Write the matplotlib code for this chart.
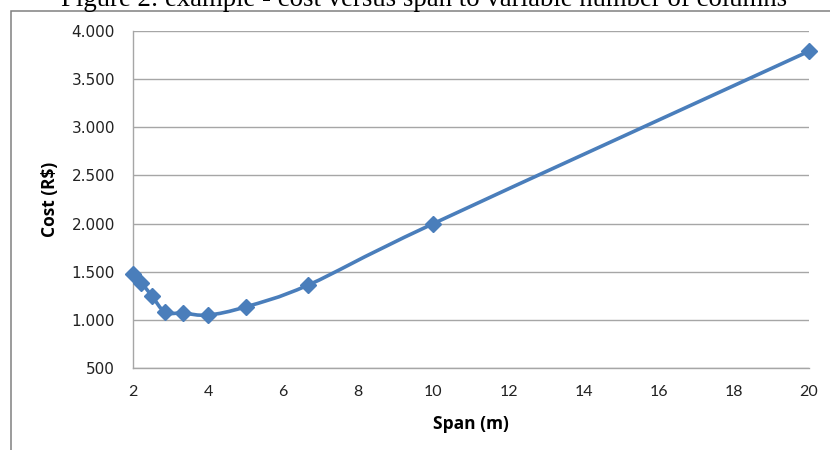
import matplotlib.pyplot as plt
import numpy as np
from matplotlib.path import Path
from matplotlib.patches import PathPatch, Rectangle
from matplotlib.ticker import FuncFormatter

# spans for 10..1 columns (20 m total)
span = [2.0, 2.222, 2.5, 2.857, 3.333, 4.0, 5.0, 6.667, 10.0, 20.0]
cost = [1476, 1385, 1250, 1080, 1070, 1050, 1135, 1362, 2000, 3790]

x_ticks = list(range(2, 21, 2))
y_ticks = list(range(500, 4001, 500))

CAPTION = "Figure 2: example - cost versus span to variable number of columns"
BLUE = "#4a7ebb"
GRID = "#a6a6a6"


def smooth_path(xs, ys):
    # Catmull-Rom as cubic Bezier segments, like Excel's smoothed line
    pts = np.column_stack([xs, ys]).astype(float)
    verts = [pts[0]]
    codes = [Path.MOVETO]
    n = len(pts)
    for i in range(n - 1):
        p0 = pts[max(i - 1, 0)]
        p1 = pts[i]
        p2 = pts[i + 1]
        p3 = pts[min(i + 2, n - 1)]
        c1 = p1 + (p2 - p0) / 6
        c2 = p2 - (p3 - p1) / 6
        verts += [c1, c2, p2]
        codes += [Path.CURVE4] * 3
    return Path(verts, codes)


fig = plt.figure(figsize=(8.3, 4.5), dpi=100)
ax = fig.add_axes([133 / 830, 1 - 368 / 450, 676 / 830, 337 / 450])

# chart area frame (runs off the right and bottom edges)
fig.patches.append(Rectangle((11 / 830, -0.1), 1.0, 1 - 10.5 / 450 + 0.1,
                             transform=fig.transFigure, fill=False,
                             edgecolor="#808080", linewidth=1.1))
fig.text(424.5 / 830, 1 - 5.5 / 450, CAPTION, ha="center", va="baseline",
         family="Liberation Serif", fontsize=19.3)

ax.add_patch(PathPatch(smooth_path(span, cost), fill=False, edgecolor=BLUE,
                       linewidth=2.6, capstyle="round", joinstyle="round", zorder=3))
ax.plot(span, cost, linestyle="none", marker="D", markersize=8,
        color=BLUE, zorder=4, clip_on=False)

ax.set_xlim(2, 20)
ax.set_ylim(500, 4000)
ax.set_xticks(x_ticks)
ax.set_yticks(y_ticks)
ax.yaxis.set_major_formatter(FuncFormatter(lambda v, p: f"{int(v):,}".replace(",", ".")))
ax.tick_params(length=0)
ax.tick_params(axis="y", pad=13, labelsize=11, labelcolor="#222222")
ax.tick_params(axis="x", pad=12, labelsize=11.5, labelcolor="#222222")
for lbl in ax.get_yticklabels():
    lbl.set_family("DejaVu Sans")
for lbl in ax.get_xticklabels():
    lbl.set_family("Lato")

ax.grid(axis="y", color=GRID, linewidth=1.0)
ax.set_axisbelow(True)
for s in ("top", "right"):
    ax.spines[s].set_visible(False)
for s in ("left", "bottom"):
    ax.spines[s].set_color(GRID)
    ax.spines[s].set_linewidth(1.0)

ax.set_xlabel("Span (m)", family="Open Sans", fontweight="bold", fontsize=12.5)
ax.set_ylabel("Cost (R$)", family="Open Sans", fontweight="bold", fontsize=12.5)
ax.xaxis.set_label_coords(0.5, -0.139)
ax.yaxis.set_label_coords(-0.109, 0.5)

fig.savefig("out.png", dpi=100)
